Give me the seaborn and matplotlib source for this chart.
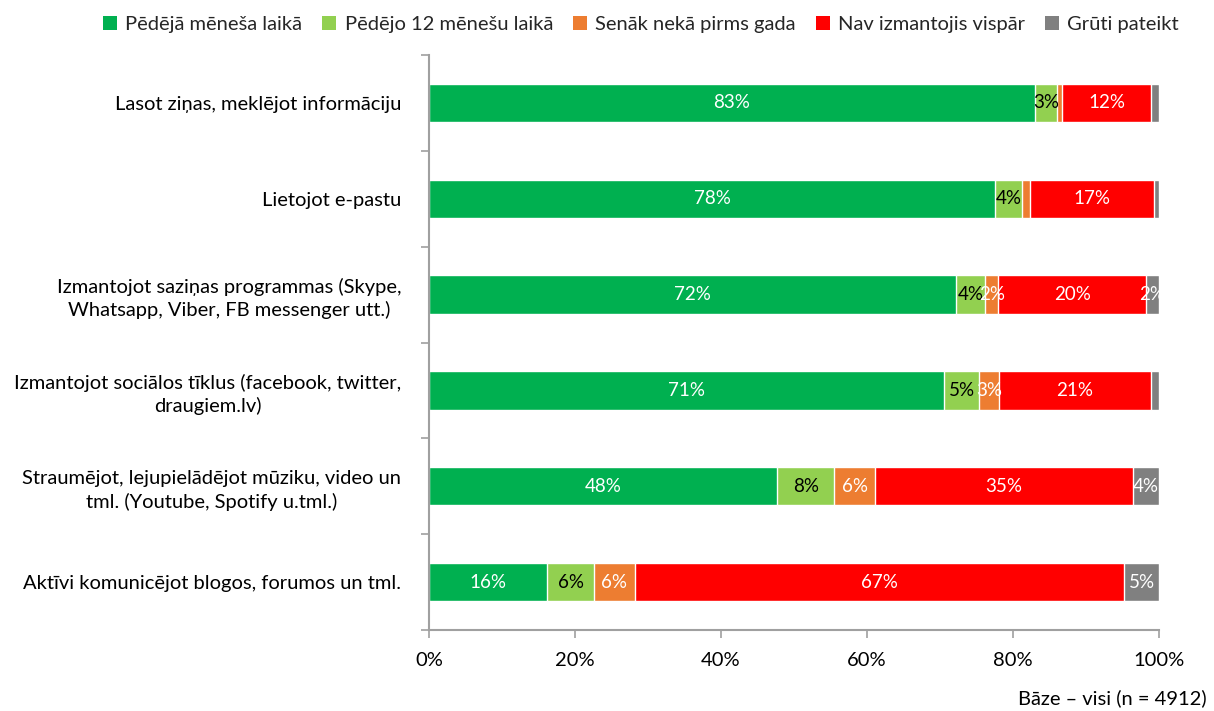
import numpy as np
import pandas as pd
import matplotlib
matplotlib.use("Agg")
import matplotlib.pyplot as plt
import seaborn as sns
from matplotlib.patches import Patch

sns.set_theme(style="white")
plt.rcParams["font.family"] = ["Lato", "DejaVu Sans"]
FS = 14.5
LABEL_FS = 13.5

categories = [
    "Lasot ziņas, meklējot informāciju",
    "Lietojot e-pastu",
    "Izmantojot saziņas programmas (Skype,\nWhatsapp, Viber, FB messenger utt.)",
    "Izmantojot sociālos tīklus (facebook, twitter,\ndraugiem.lv)",
    "Straumējot, lejupielādējot mūziku, video un\ntml. (Youtube, Spotify u.tml.)",
    "Aktīvi komunicējot blogos, forumos un tml.",
]
series_names = [
    "Pēdējā mēneša laikā",
    "Pēdējo 12 mēnešu laikā",
    "Senāk nekā pirms gada",
    "Nav izmantojis vispār",
    "Grūti pateikt",
]
last_month = [83.0, 77.6, 72.2, 70.6, 47.7, 16.2]
last_12_months = [3.0, 3.7, 4.0, 4.8, 7.8, 6.4]
over_year_ago = [0.7, 1.0, 1.8, 2.7, 5.6, 5.6]
never_used = [12.2, 17.0, 20.2, 20.8, 35.3, 67.0]
hard_to_say = [1.1, 0.7, 1.8, 1.1, 3.6, 4.8]

colors = ["#00B050", "#92D050", "#ED7D31", "#FF0000", "#808080"]
text_colors = ["white", "black", "white", "white", "white"]

values = [last_month, last_12_months, over_year_ago, never_used, hard_to_say]
df = pd.DataFrame({name: vals for name, vals in zip(series_names, values)})
df["Kategorija"] = categories
cum = df[series_names].cumsum(axis=1)

fig = plt.figure(figsize=(12.14, 7.11), dpi=100)
ax = fig.add_axes([429 / 1214, 1 - 630 / 711, 730 / 1214, 575 / 711])

# stacked bars: draw cumulative totals from the last series backwards
for i in reversed(range(len(series_names))):
    sns.barplot(
        x=cum[series_names[i]], y=df["Kategorija"], orient="h",
        color=colors[i], saturation=1, width=0.4, ax=ax,
    )

# segment labels
for row in range(len(categories)):
    for i, name in enumerate(series_names):
        v = df[name].iloc[row]
        if round(v) < 2:
            continue
        right = cum[name].iloc[row]
        ax.text(right - v / 2, row, f"{v:.0f}%", ha="center", va="center",
                color=text_colors[i], fontsize=LABEL_FS)

ax.set_xlim(0, 100)
ax.set_ylim(len(categories) - 0.5, -0.5)
ax.set_xlabel("")
ax.set_ylabel("")
ax.set_xticks(np.arange(0, 101, 20))
ax.set_xticklabels([f"{t}%" for t in range(0, 101, 20)], fontsize=FS, color="#000000")
ax.tick_params(axis="x", which="major", length=6, width=1.2, color="#A0A0A0",
               direction="out", pad=10, bottom=True)

ax.set_yticks(range(len(categories)))
ax.set_yticklabels(categories, fontsize=FS, color="#000000", ha="right",
                   multialignment="center", linespacing=1.35)
ax.set_yticks(np.arange(-0.5, len(categories), 1), minor=True)
ax.tick_params(axis="y", which="major", length=0, pad=20)
ax.tick_params(axis="y", which="minor", length=6, width=1.2, color="#A0A0A0",
               direction="out", left=True)

for side in ["top", "right"]:
    ax.spines[side].set_visible(False)
for side in ["left", "bottom"]:
    ax.spines[side].set_color("#A0A0A0")
    ax.spines[side].set_linewidth(1.5)

handles = [Patch(facecolor=c, edgecolor="none") for c in colors]
fig.legend(handles, series_names, loc="upper center", bbox_to_anchor=(0.528, 1.003),
           ncol=5, frameon=False, fontsize=FS, handlelength=0.7, handleheight=0.7,
           handletextpad=0.4, columnspacing=1.0)

fig.text(1207 / 1214, 1 - 698 / 711, "Bāze – visi (n = 4912)", ha="right", va="center",
         fontsize=FS, color="#000000")

fig.savefig("out.png", dpi=100)
